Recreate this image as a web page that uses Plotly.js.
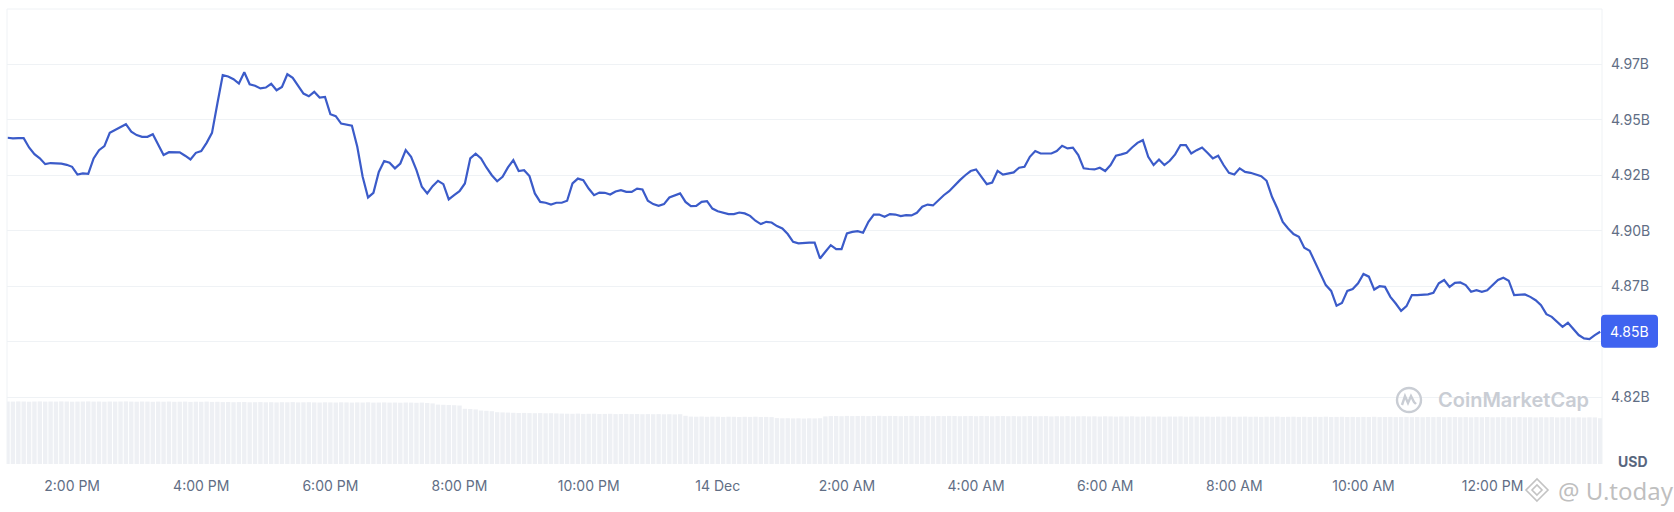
<!DOCTYPE html>
<html>
<head>
<meta charset="utf-8">
<script src="https://cdn.plot.ly/plotly-3.0.1.min.js"></script>
<style>
  html, body { margin: 0; padding: 0; background: #ffffff; }
  #chart { width: 1674px; height: 512px; }
</style>
</head>
<body>
<div id="chart"></div>
<script>
// ---- DATA ----
const seriesStart = '2023-12-13 13:00';   // first sample
const sampleMinutes = 5;                   // sampling interval

// Market cap, billions USD (5-minute samples)
const marketCap = [
  4.9420, 4.9417, 4.9418, 4.9418, 4.9376, 4.9346, 4.9327, 4.9301, 4.9306, 4.9306,
  4.9303, 4.9298, 4.9289, 4.9254, 4.9259, 4.9257, 4.9327, 4.9364, 4.9382, 4.9442,
  4.9454, 4.9468, 4.9481, 4.9447, 4.9432, 4.9424, 4.9424, 4.9436, 4.9387, 4.9342,
  4.9355, 4.9354, 4.9354, 4.9339, 4.9322, 4.9352, 4.9360, 4.9397, 4.9442, 4.9574,
  4.9702, 4.9696, 4.9684, 4.9664, 4.9715, 4.9661, 4.9654, 4.9642, 4.9646, 4.9663,
  4.9634, 4.9649, 4.9706, 4.9690, 4.9657, 4.9619, 4.9607, 4.9627, 4.9601, 4.9604,
  4.9526, 4.9517, 4.9484, 4.9480, 4.9474, 4.9379, 4.9244, 4.9151, 4.9172, 4.9266,
  4.9315, 4.9307, 4.9282, 4.9304, 4.9364, 4.9334, 4.9274, 4.9199, 4.9169, 4.9202,
  4.9226, 4.9211, 4.9142, 4.9161, 4.9179, 4.9214, 4.9327, 4.9348, 4.9327, 4.9286,
  4.9251, 4.9224, 4.9244, 4.9286, 4.9319, 4.9270, 4.9274, 4.9247, 4.9169, 4.9131,
  4.9127, 4.9119, 4.9127, 4.9127, 4.9136, 4.9214, 4.9236, 4.9229, 4.9191, 4.9161,
  4.9173, 4.9172, 4.9164, 4.9178, 4.9184, 4.9176, 4.9176, 4.9191, 4.9187, 4.9136,
  4.9121, 4.9113, 4.9121, 4.9151, 4.9161, 4.9169, 4.9131, 4.9112, 4.9113, 4.9131,
  4.9134, 4.9101, 4.9089, 4.9082, 4.9076, 4.9076, 4.9083, 4.9079, 4.9068, 4.9046,
  4.9031, 4.9041, 4.9038, 4.9022, 4.9011, 4.8986, 4.8951, 4.8944, 4.8947, 4.8947,
  4.8947, 4.8876, 4.8906, 4.8936, 4.8918, 4.8918, 4.8989, 4.8996, 4.8999, 4.8992,
  4.9041, 4.9074, 4.9074, 4.9064, 4.9076, 4.9074, 4.9067, 4.9071, 4.9070, 4.9082,
  4.9109, 4.9119, 4.9115, 4.9139, 4.9161, 4.9179, 4.9206, 4.9229, 4.9251, 4.9270,
  4.9277, 4.9241, 4.9211, 4.9218, 4.9271, 4.9254, 4.9259, 4.9264, 4.9285, 4.9289,
  4.9334, 4.9360, 4.9349, 4.9349, 4.9349, 4.9360, 4.9384, 4.9372, 4.9375, 4.9342,
  4.9282, 4.9279, 4.9277, 4.9285, 4.9270, 4.9297, 4.9339, 4.9345, 4.9352, 4.9376,
  4.9397, 4.9409, 4.9334, 4.9297, 4.9322, 4.9297, 4.9316, 4.9345, 4.9387, 4.9387,
  4.9349, 4.9364, 4.9376, 4.9352, 4.9327, 4.9339, 4.9297, 4.9262, 4.9254, 4.9282,
  4.9266, 4.9262, 4.9256, 4.9247, 4.9226, 4.9154, 4.9101, 4.9041, 4.9011, 4.8986,
  4.8974, 4.8924, 4.8911, 4.8861, 4.8812, 4.8756, 4.8730, 4.8663, 4.8676, 4.8730,
  4.8738, 4.8764, 4.8806, 4.8794, 4.8736, 4.8751, 4.8748, 4.8703, 4.8673, 4.8640,
  4.8661, 4.8711, 4.8711, 4.8711, 4.8714, 4.8721, 4.8764, 4.8779, 4.8748, 4.8766,
  4.8768, 4.8756, 4.8726, 4.8733, 4.8726, 4.8733, 4.8756, 4.8779, 4.8789, 4.8776,
  4.8711, 4.8711, 4.8714, 4.8703, 4.8688, 4.8666, 4.8625, 4.8613, 4.8591, 4.8568,
  4.8586, 4.8556, 4.8531, 4.8516, 4.8513, 4.8531, 4.8546
];

// Volume (relative units), same 5-minute samples
const volume = [
  62.5, 62.4, 62.6, 62.5, 62.3, 62.5, 62.6, 62.4, 62.5, 62.4, 62.6, 62.5, 62.3, 62.4, 62.5, 62.6, 62.4, 62.5, 62.3, 62.5,
  62.4, 62.5, 62.6, 62.4, 62.3, 62.5, 62.4, 62.2, 62.4, 62.3, 62.5, 62.2, 62.3, 62.4, 62.1, 62.3, 62.2, 62.4, 62.1, 62.2,
  61.9, 62.0, 61.8, 61.9, 62.0, 61.7, 61.8, 61.9, 61.7, 61.8, 61.6, 61.8, 61.7, 61.9, 61.6, 61.7, 61.8, 61.6, 61.5, 61.7,
  61.6, 61.5, 61.7, 61.6, 61.4, 61.6, 61.5, 61.7, 61.4, 61.5, 61.6, 61.4, 61.5, 61.3, 61.5, 61.4, 61.2, 61.4, 61.0, 60.6,
  59.4, 59.2, 59.0, 58.8, 58.5, 55.2, 55.0, 54.6, 53.5, 53.2, 52.8, 51.8, 51.6, 51.4, 51.2, 51.0, 51.1, 50.9, 50.8, 50.9,
  50.7, 50.8, 50.6, 50.4, 50.3, 50.2, 50.4, 50.1, 50.2, 50.3, 50.0, 50.1, 50.2, 49.9, 50.0, 50.1, 49.9, 50.0, 49.8, 49.9,
  49.8, 49.9, 49.7, 49.8, 49.6, 49.8, 48.2, 47.4, 47.3, 47.5, 47.2, 47.4, 47.3, 47.1, 47.3, 47.2, 47.0, 47.2, 47.1, 47.3,
  47.0, 47.1, 46.9, 45.9, 45.7, 45.8, 45.6, 45.7, 45.5, 45.7, 45.6, 45.8, 47.6, 47.9, 48.0, 47.8, 48.1, 47.9, 48.0, 48.1,
  47.9, 48.0, 48.2, 47.9, 48.1, 48.0, 47.8, 48.0, 48.1, 47.9, 48.0, 48.1, 47.8, 48.0, 47.9, 48.1, 48.0, 47.8, 47.9, 48.0,
  47.8, 48.0, 47.9, 47.7, 47.9, 48.0, 47.8, 47.9, 47.7, 47.8, 48.0, 47.7, 47.8, 47.9, 47.6, 47.8, 47.7, 47.9, 47.6, 47.7,
  47.8, 47.6, 47.7, 47.5, 47.7, 47.6, 47.4, 47.6, 47.5, 47.7, 47.4, 47.5, 47.6, 47.4, 47.5, 47.3, 47.5, 47.4, 47.6, 47.3,
  47.4, 47.5, 47.3, 47.4, 47.2, 47.4, 47.3, 47.5, 47.2, 47.3, 47.4, 47.2, 47.3, 47.1, 47.3, 47.2, 47.4, 47.1, 47.2, 47.3,
  47.1, 47.2, 47.0, 47.2, 47.1, 47.3, 47.0, 47.1, 47.2, 47.0, 47.1, 46.9, 47.1, 47.0, 47.2, 46.9, 47.0, 47.1, 46.9, 47.0,
  47.1, 46.9, 47.0, 46.8, 47.0, 46.9, 47.1, 46.8, 46.9, 47.0, 46.8, 46.9, 46.7, 46.9, 46.8, 47.0, 46.7, 46.8, 46.9, 46.7,
  46.8, 46.9, 46.7, 46.8, 46.6, 46.8, 46.7, 46.9, 46.6, 46.7, 46.8, 46.6, 46.7, 46.5, 46.7, 46.6, 45.8
];

const xTickTimes = ['2023-12-13 14:00','2023-12-13 16:00','2023-12-13 18:00','2023-12-13 20:00',
  '2023-12-13 22:00','2023-12-14 00:00','2023-12-14 02:00','2023-12-14 04:00',
  '2023-12-14 06:00','2023-12-14 08:00','2023-12-14 10:00','2023-12-14 12:00'];
const xTickLabels = ['2:00 PM','4:00 PM','6:00 PM','8:00 PM','10:00 PM','14 Dec',
  '2:00 AM','4:00 AM','6:00 AM','8:00 AM','10:00 AM','12:00 PM'];

// gridline values; the 4.85 label is covered by the last-value badge in the original
const yTickValues = [4.825, 4.85, 4.875, 4.90, 4.925, 4.95, 4.975];
const yTickLabels = ['4.82B', '', '4.87B', '4.90B', '4.92B', '4.95B', '4.97B'];

// ---- BUILD TIMESTAMPS ----
function toMs(s){ const [d,t]=s.split(' '); const [Y,M,D]=d.split('-').map(Number); const [h,m]=t.split(':').map(Number); return Date.UTC(Y,M-1,D,h,m); }
function fmt(ms){ const d=new Date(ms); const p=n=>String(n).padStart(2,'0');
  return d.getUTCFullYear()+'-'+p(d.getUTCMonth()+1)+'-'+p(d.getUTCDate())+' '+p(d.getUTCHours())+':'+p(d.getUTCMinutes())+':'+p(d.getUTCSeconds()); }
const t0 = toMs(seriesStart);
const times = marketCap.map((_, i) => fmt(t0 + i * sampleMinutes * 60000));

const lastValue = marketCap[marketCap.length - 1];
const lastLabel = (Math.floor(lastValue * 100) / 100).toFixed(2) + 'B';

const FONT = 'Inter, "Noto Sans", Arial, sans-serif';
const GRID = '#eff2f5';

const traces = [
  {
    type: 'bar', x: times, y: volume, xaxis: 'x', yaxis: 'y2',
    marker: { color: '#eef0f4', line: { width: 0 } },
    hoverinfo: 'skip', showlegend: false
  },
  {
    type: 'scatter', mode: 'lines', x: times, y: marketCap, xaxis: 'x', yaxis: 'y',
    line: { color: '#3b5bc9', width: 2.2, shape: 'linear' },
    hoverinfo: 'skip', showlegend: false
  }
];

const layout = {
  width: 1674, height: 512,
  margin: { l: 7, r: 72, t: 9, b: 48, pad: 0 },
  paper_bgcolor: '#ffffff', plot_bgcolor: 'rgba(0,0,0,0)',
  font: { family: FONT, size: 14, color: '#616e85' },
  bargap: 0.18,
  xaxis: {
    type: 'date',
    range: ['2023-12-13 12:59:30', '2023-12-14 13:41:40'],
    tickvals: xTickTimes, ticktext: xTickLabels,
    showgrid: false, zeroline: false, showline: false, ticks: '',
    tickfont: { family: FONT, size: 14, color: '#616e85' },
    ticklabelstandoff: 12,
    fixedrange: true
  },
  yaxis: {
    side: 'right', range: [4.795, 5.0],
    tickvals: yTickValues, ticktext: yTickLabels,
    showgrid: true, gridcolor: GRID, gridwidth: 1,
    zeroline: false, showline: false, ticks: '',
    tickfont: { family: FONT, size: 14, color: '#616e85' },
    ticklabelstandoff: 8,
    fixedrange: true
  },
  yaxis2: {
    domain: [0, 70 / 455], range: [0, 70],
    visible: false, showgrid: false, zeroline: false, fixedrange: true
  },
  shapes: [
    { type: 'line', xref: 'paper', yref: 'paper', x0: 0, x1: 1, y0: 1, y1: 1, line: { color: GRID, width: 1 } },
    { type: 'line', xref: 'paper', yref: 'paper', x0: 0, x1: 0, y0: 0, y1: 1, line: { color: GRID, width: 1 } },
    { type: 'line', xref: 'paper', yref: 'paper', x0: 1, x1: 1, y0: 0, y1: 1, line: { color: GRID, width: 1 } },
    // last value badge (rounded rectangle)
    { type: 'path', xref: 'paper', yref: 'y', xsizemode: 'pixel', ysizemode: 'pixel',
      xanchor: 1, yanchor: lastValue,
      path: 'M 3 -16 L 52 -16 Q 56 -16 56 -12 L 56 13 Q 56 17 52 17 L 3 17 Q -1 17 -1 13 L -1 -12 Q -1 -16 3 -16 Z',
      fillcolor: '#3f63f0', line: { width: 0 } },
    // CoinMarketCap logo circle
    { type: 'circle', xref: 'paper', yref: 'paper', xsizemode: 'pixel', ysizemode: 'pixel',
      xanchor: (1409 - 7) / 1595, yanchor: (464 - 400) / 455,
      x0: -12, x1: 12, y0: -12, y1: 12, line: { color: '#c9cdd4', width: 2.4 } },
    { type: 'path', xref: 'paper', yref: 'paper', xsizemode: 'pixel', ysizemode: 'pixel',
      xanchor: (1409 - 7) / 1595, yanchor: (464 - 400) / 455,
      path: 'M -7 -5 L -4 4 L -1 -3 L 2 4 L 5 -2 L 7 -4',
      line: { color: '#c9cdd4', width: 2.4 } },
    // U.today diamond mark
    { type: 'path', xref: 'paper', yref: 'paper', xsizemode: 'pixel', ysizemode: 'pixel',
      xanchor: (1537 - 7) / 1595, yanchor: (464 - 490) / 455,
      path: 'M 0 -11 L 11 0 L 0 11 L -11 0 Z M 0 -5 L 5 0 L 0 5 L -5 0 Z',
      line: { color: 'rgba(170,170,170,0.7)', width: 1.6 } }
  ],
  annotations: [
    { text: lastLabel, xref: 'paper', yref: 'y', x: (1629.5 - 7) / 1595, y: lastValue,
      xanchor: 'center', yanchor: 'middle', showarrow: false,
      font: { family: FONT, size: 14, color: '#ffffff' } },
    { text: '<b>USD</b>', xref: 'paper', yref: 'paper', x: (1633 - 7) / 1595, y: (464 - 461) / 455,
      xanchor: 'center', yanchor: 'middle', showarrow: false,
      font: { family: FONT, size: 14, color: '#58667e' } },
    { text: 'CoinMarketCap', xref: 'paper', yref: 'paper', x: (1436 - 7) / 1595, y: (464 - 400) / 455,
      xanchor: 'left', yanchor: 'middle', showarrow: false,
      font: { family: FONT, size: 20, color: '#c9cdd4', weight: 600 } },
    { text: '@ U.today', xref: 'paper', yref: 'paper', x: (1556 - 7) / 1595, y: (464 - 490) / 455,
      xanchor: 'left', yanchor: 'middle', showarrow: false,
      font: { family: '"Noto Sans", sans-serif', size: 24, color: 'rgba(170,170,170,0.75)' } }
  ]
};

Plotly.newPlot('chart', traces, layout, { staticPlot: true, displayModeBar: false });
</script>
</body>
</html>
